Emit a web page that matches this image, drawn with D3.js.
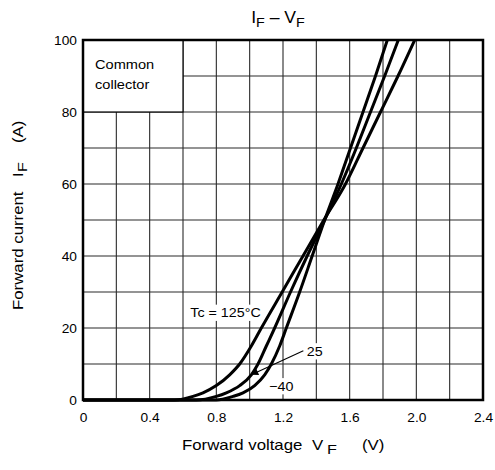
<!DOCTYPE html>
<html>
<head>
<meta charset="utf-8">
<script src="https://cdn.jsdelivr.net/npm/d3@7"></script>
<style>
body { margin: 0; background: #fff; }
text { font-family: "Liberation Sans", Arial, sans-serif; fill: #000; }
</style>
</head>
<body>
<div id="chart"></div>
<script>
// forward current (A) and the voltage read at that current for each case temperature
const currents = [0, 0, 1, 2, 4, 7, 10, 15, 20, 30, 40, 50, 60, 70, 80, 90, 100]
const vf125 = [0, 0.55, 0.66, 0.72, 0.80, 0.88, 0.94, 1.01, 1.07, 1.195, 1.32, 1.445, 1.575, 1.68, 1.785, 1.89, 1.99]
const vf25 = [0, 0.68, 0.80, 0.86, 0.94, 1.01, 1.05, 1.10, 1.15, 1.245, 1.345, 1.45, 1.55, 1.64, 1.725, 1.81, 1.892]
const vfm40 = [0, 0.80, 0.90, 0.96, 1.03, 1.09, 1.13, 1.18, 1.22, 1.30, 1.375, 1.45, 1.53, 1.605, 1.68, 1.755, 1.826]
const xTicks = [0, 0.4, 0.8, 1.2, 1.6, 2.0, 2.4]
const yTicks = [0, 20, 40, 60, 80, 100]

const width = 495, height = 470
const margin = {top: 40, right: 12, bottom: 70, left: 83}
const w = width - margin.left - margin.right
const h = height - margin.top - margin.bottom

const svg = d3.select("#chart").append("svg")
  .attr("width", width).attr("height", height)

const g = svg.append("g").attr("transform", `translate(${margin.left},${margin.top})`)

const x = d3.scaleLinear().domain([0, 2.4]).range([0, w])
const y = d3.scaleLinear().domain([0, 100]).range([h, 0])

// stretched text, the original lettering is wider than Arial
function label(parent, px, py, str, size, anchor, sx) {
  return parent.append("text")
    .attr("transform", `translate(${px},${py}) scale(${sx || 1.12},1)`)
    .attr("text-anchor", anchor || "start")
    .style("font-size", size + "px")
    .text(str)
}

// grid
g.append("g").selectAll("line").data(d3.range(0, 13).map(i => i * 0.2))
  .enter().append("line")
  .attr("x1", d => x(d)).attr("x2", d => x(d))
  .attr("y1", 0).attr("y2", h)
  .style("stroke", "#2a2a2a").style("stroke-width", 1.1)
g.append("g").selectAll("line").data(d3.range(0, 11).map(i => i * 10))
  .enter().append("line")
  .attr("y1", d => y(d)).attr("y2", d => y(d))
  .attr("x1", 0).attr("x2", w)
  .style("stroke", "#2a2a2a").style("stroke-width", 1.1)

// "Common collector" box
g.append("rect")
  .attr("x", x(0)).attr("y", y(100))
  .attr("width", x(0.6) - x(0)).attr("height", y(80) - y(100))
  .style("fill", "#fff").style("stroke", "#000").style("stroke-width", 1.2)
label(g, 12, 29, "Common", 13.5, "start", 1.08)
label(g, 12, 49, "collector", 13.5, "start", 1.08)

// curves
const line = d3.line()
  .x(d => x(d[0])).y(d => y(d[1]))
  .curve(d3.curveMonotoneX)
const series = [vf125, vf25, vfm40].map(v => v.map((vv, i) => [vv, currents[i]]))
g.selectAll(".curve").data(series).enter().append("path")
  .attr("class", "curve")
  .attr("d", line)
  .style("fill", "none").style("stroke", "#000").style("stroke-width", 3)
  .style("stroke-linejoin", "round")

// annotations with white backing
function tag(px, py, str) {
  const t = label(g, px, py, str, 13, "middle", 1.1).attr("dy", "0.35em")
  const b = t.node().getBBox()
  g.insert("rect", function() { return t.node() })
    .attr("transform", t.attr("transform"))
    .attr("x", b.x - 2).attr("y", b.y - 1)
    .attr("width", b.width + 4).attr("height", b.height + 2)
    .style("fill", "#fff")
  return t
}
tag(x(0.855), y(24.3), "Tc = 125°C")
tag(x(1.39), y(13.6), "25")
tag(x(1.19), y(3.9), "\u221240")

svg.append("defs").append("marker")
  .attr("id", "arr").attr("viewBox", "0 0 10 10")
  .attr("refX", 10).attr("refY", 5)
  .attr("markerWidth", 9).attr("markerHeight", 7)
  .attr("markerUnits", "userSpaceOnUse")
  .attr("orient", "auto")
  .append("path").attr("d", "M0,0L10,5L0,10z").style("fill", "#000")
g.append("line")
  .attr("x1", x(1.322)).attr("y1", y(13.7))
  .attr("x2", x(1.01)).attr("y2", y(7.0))
  .style("stroke", "#000").style("stroke-width", 1.1)
  .attr("marker-end", "url(#arr)")

// frame
g.append("rect").attr("width", w).attr("height", h)
  .style("fill", "none").style("stroke", "#000").style("stroke-width", 2.5)

// tick labels
const xAxis = g.append("g").attr("transform", `translate(0,${h})`)
  .call(d3.axisBottom(x).tickValues(xTicks).tickSize(0).tickPadding(0)
    .tickFormat(d => d === 0 ? "0" : d3.format(".1f")(d)))
xAxis.select(".domain").remove()
xAxis.selectAll("text").each(function(d) {
  d3.select(this).attr("y", null).attr("dy", null)
    .attr("transform", `translate(0,22) scale(1.1,1)`)
    .style("font-size", "12.5px").style("font-family", null)
})
const yAxis = g.append("g")
  .call(d3.axisLeft(y).tickValues(yTicks).tickSize(0).tickPadding(0))
yAxis.select(".domain").remove()
yAxis.selectAll("text").each(function(d) {
  d3.select(this).attr("x", null).attr("dy", "0.35em")
    .attr("transform", `translate(-6,0) scale(1.1,1)`)
    .style("font-size", "12.5px").style("font-family", null)
})

// title
const title = svg.append("text")
  .attr("transform", "translate(278,23) scale(1.1,1)")
  .attr("text-anchor", "middle").style("font-size", "16px")
title.append("tspan").text("I")
title.append("tspan").attr("dy", 4).style("font-size", "13px").text("F")
title.append("tspan").attr("dy", -4).text(" \u2013 V")
title.append("tspan").attr("dy", 4).style("font-size", "13px").text("F")

// x axis title
label(svg, 182, 450, "Forward voltage", 14, "start", 1.2)
label(svg, 312, 450, "V", 14, "start", 1.2)
label(svg, 327, 454, "F", 13.5, "start", 1.2)
label(svg, 362, 450, "(V)", 14, "start", 1.2)

// y axis title
const yt = svg.append("g").attr("transform", "translate(23,0) rotate(-90)")
label(yt, -310, 0, "Forward current", 14, "start", 1.2)
label(yt, -177, 0, "I", 14, "start", 1.2)
label(yt, -172, 4, "F", 13.5, "start", 1.2)
label(yt, -143, 0, "(A)", 14, "start", 1.2)
</script>
</body>
</html>
